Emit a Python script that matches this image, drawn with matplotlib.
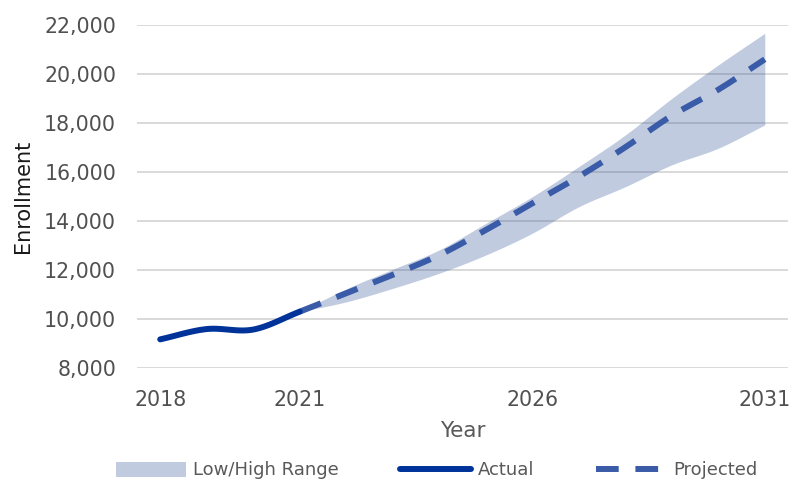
import numpy as np
import matplotlib
matplotlib.use("Agg")
import matplotlib.pyplot as plt
from matplotlib.patches import Patch
from matplotlib.lines import Line2D

# data
actual_years = [2018, 2019, 2020, 2021]
actual_vals = [9170, 9590, 9570, 10300]

proj_years = [2021, 2022, 2023, 2024, 2025, 2026, 2027, 2028, 2029, 2030, 2031]
proj_vals = [10300, 11050, 11800, 12610, 13630, 14720, 15810, 17010, 18300, 19360, 20600]
low_vals = [10300, 10700, 11250, 11870, 12610, 13500, 14580, 15400, 16290, 16970, 17920]
high_vals = [10300, 11230, 12030, 12820, 13900, 14990, 16220, 17510, 19000, 20370, 21660]

xticks = [2018, 2021, 2026, 2031]
yticks = [8000, 10000, 12000, 14000, 16000, 18000, 20000, 22000]

grey = '#595959'


def smooth(x, y, n=20):
    # catmull-rom style smoothing, like excel's smoothed lines
    x = np.asarray(x, float)
    y = np.asarray(y, float)
    px = np.concatenate([[2 * x[0] - x[1]], x, [2 * x[-1] - x[-2]]])
    py = np.concatenate([[2 * y[0] - y[1]], y, [2 * y[-1] - y[-2]]])
    xs, ys = [], []
    t = np.linspace(0, 1, n, endpoint=False)
    for i in range(1, len(px) - 2):
        for arr, out in ((px, xs), (py, ys)):
            p0, p1, p2, p3 = arr[i - 1], arr[i], arr[i + 1], arr[i + 2]
            out.extend(0.5 * ((2 * p1) + (-p0 + p2) * t
                              + (2 * p0 - 5 * p1 + 4 * p2 - p3) * t ** 2
                              + (-p0 + 3 * p1 - 3 * p2 + p3) * t ** 3))
    xs.append(x[-1])
    ys.append(y[-1])
    return np.array(xs), np.array(ys)


fig = plt.figure(figsize=(7.94, 4.8), dpi=100)
ax = fig.add_axes([0.1725, 0.2333, 0.82, 0.7147])

sx, sl = smooth(proj_years, low_vals)
_, sh = smooth(proj_years, high_vals)
ax.fill_between(sx, sl, sh, color='#2F5597', alpha=0.3, linewidth=0, zorder=2)

ax_x, ax_y = smooth(actual_years, actual_vals)
ax.plot(ax_x, ax_y, color='#003399', lw=4.3, solid_capstyle='round', zorder=4)

px_, py_ = smooth(proj_years, proj_vals)
ax.plot(px_, py_, color='#3A5BA8', lw=4.3, dashes=(3.8, 2.8),
        dash_capstyle='butt', zorder=3)

ax.set_xlim(2017.5, 2031.5)
ax.set_ylim(8000, 22000)
ax.set_xticks(xticks)
ax.set_yticks(yticks)
ax.set_yticklabels(['{:,}'.format(v) for v in yticks])
ax.grid(axis='y', color='#D9D9D9', lw=1.4, zorder=1)
ax.set_axisbelow(True)
for s in ax.spines.values():
    s.set_visible(False)
ax.tick_params(axis='y', length=0, pad=15, labelsize=14.8, labelcolor='#505050')
ax.tick_params(axis='x', length=0, pad=16, labelsize=14.8, labelcolor='#505050')

ax.set_xlabel('Year', fontsize=15.5, color=grey, labelpad=8)
ax.set_ylabel('Enrollment', fontsize=15, color='#1a1a1a', labelpad=8)

handles = [Patch(facecolor='#2F5597', alpha=0.3, edgecolor='none'),
           Line2D([], [], color='#003399', lw=4.3, solid_capstyle='round'),
           Line2D([], [], color='#3A5BA8', lw=4.3, dashes=(3.8, 2.8), dash_capstyle='butt')]
fig.legend(handles, ['Low/High Range', 'Actual', 'Projected'], loc='center',
           bbox_to_anchor=(0.55, 0.02), ncol=3, frameon=False, fontsize=13,
           labelcolor=grey, handlelength=3.9, handleheight=0.9,
           handletextpad=0.4, columnspacing=3.4)

fig.savefig('out.png', dpi=100)
